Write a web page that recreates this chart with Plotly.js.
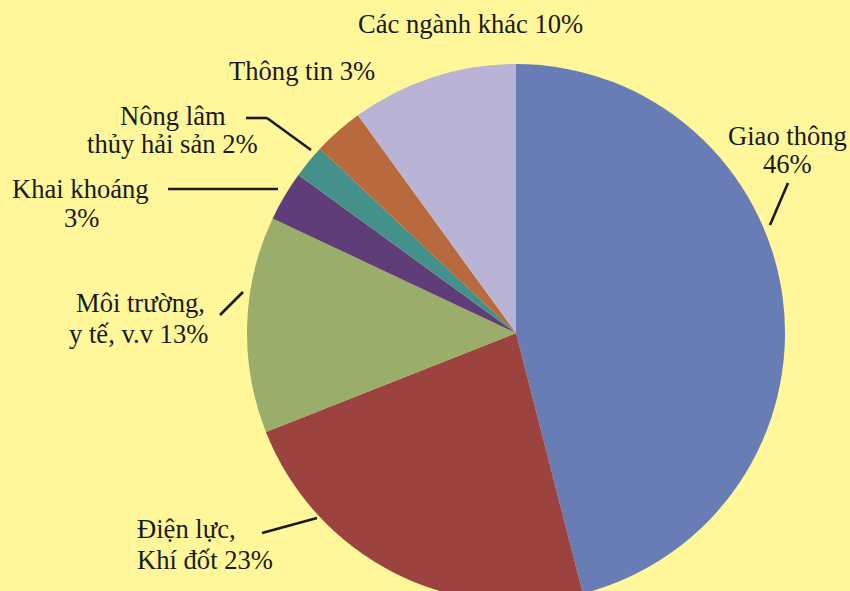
<!DOCTYPE html>
<html>
<head>
<meta charset="utf-8">
<script src="https://cdn.plot.ly/plotly-3.0.1.min.js"></script>
<style>
html, body { margin: 0; padding: 0; overflow: hidden; background: #FFF799; font-family: "Liberation Serif", serif; }
#chart { width: 850px; height: 620px; }
</style>
</head>
<body>
<div id="chart"></div>
<script>
// ---- data ----
const categories = ["Giao thông", "Điện lực, Khí đốt", "Môi trường, y tế, v.v", "Khai khoáng", "Nông lâm thủy hải sản", "Thông tin", "Các ngành khác"];
const values = [46, 23, 13, 3, 2, 3, 10];
const colors = ["#687DB5", "#9C4340", "#9BAD6B", "#5E3D78", "#43918A", "#B8693D", "#B9B3D6"];
// label lines per slice ({p} = percentage)
const labelLines = [
  ["Giao thông", "{p}%"],
  ["Điện lực,", "Khí đốt {p}%"],
  ["Môi trường,", "y tế, v.v {p}%"],
  ["Khai khoáng", "{p}%"],
  ["Nông lâm", "thủy hải sản {p}%"],
  ["Thông tin {p}%"],
  ["Các ngành khác {p}%"]
];

// ---- layout helpers (pixel -> paper) ----
const W = 850, H = 620;
const px = x => x / W;
const py = y => 1 - y / H;
const FS = 26.6;

// label placement: [x, baseline y, xanchor] per line
const labelPos = [
  [[787.5, 145, "center"], [787, 173, "center"]],
  [[135, 538, "left"], [135, 569, "left"]],
  [[140, 312, "center"], [138, 343, "center"]],
  [[80.7, 198, "center"], [81, 227, "center"]],
  [[172.5, 125, "center"], [172, 153, "center"]],
  [[301.5, 80, "center"]],
  [[470, 33, "center"]]
];
// leader lines (pixel polylines)
const leaders = [
  [[788, 183], [770, 225]],
  [[262, 533], [317, 518]],
  [[220, 315], [243, 292]],
  [[168, 189], [278, 189]],
  [[246, 118], [267, 118], [311, 150]],
  null,
  null
];

const total = values.reduce((a, b) => a + b, 0);
const annotations = [];
labelLines.forEach((lines, i) => {
  const pct = Math.round(values[i] / total * 100);
  lines.forEach((ln, j) => {
    const [x, base, anchor] = labelPos[i][j];
    annotations.push({
      xref: "paper", yref: "paper",
      x: px(x), y: py(base - 0.3375 * FS),
      xanchor: anchor, yanchor: "middle",
      text: ln.replace("{p}", pct),
      showarrow: false,
      font: {family: "Liberation Serif", size: FS, color: "#1a1a1a"}
    });
  });
});

const shapes = [];
leaders.forEach(pts => {
  if (!pts) return;
  for (let k = 0; k < pts.length - 1; k++) {
    shapes.push({
      type: "line", xref: "paper", yref: "paper",
      x0: px(pts[k][0]), y0: py(pts[k][1]), x1: px(pts[k + 1][0]), y1: py(pts[k + 1][1]),
      line: {color: "#1a1a1a", width: 2.6}
    });
  }
});

const cx = 516, cy = 333, r = 269;
const trace = {
  type: "pie",
  labels: categories,
  values: values,
  sort: false,
  direction: "clockwise",
  rotation: 0,
  textinfo: "none",
  hoverinfo: "label+percent",
  marker: {colors: colors, line: {width: 0}},
  domain: {x: [px(cx - r), px(cx + r)], y: [py(cy + r), py(cy - r)]},
  showlegend: false
};

const layout = {
  width: W, height: H,
  margin: {l: 0, r: 0, t: 0, b: 0},
  font: {family: "Liberation Serif", size: FS},
  paper_bgcolor: "#FFF799",
  plot_bgcolor: "#FFF799",
  showlegend: false,
  annotations: annotations,
  shapes: shapes
};

Plotly.newPlot("chart", [trace], layout, {displayModeBar: false, staticPlot: true});
</script>
</body>
</html>
